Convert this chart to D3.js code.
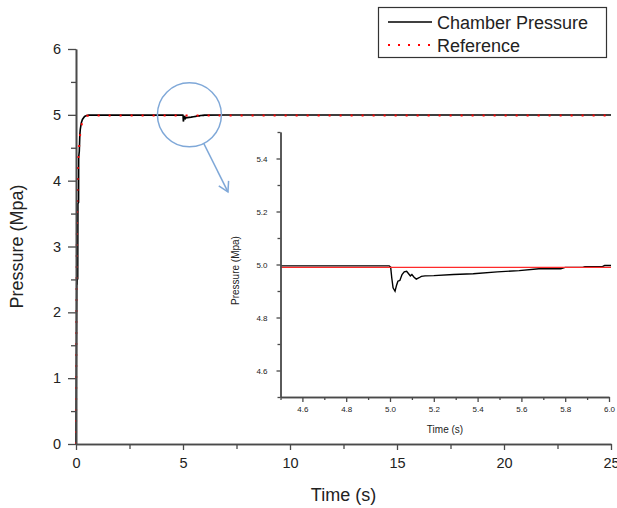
<!DOCTYPE html>
<html>
<head>
<meta charset="utf-8">
<script src="https://cdn.jsdelivr.net/npm/d3@7"></script>
<style>
  html, body { margin: 0; padding: 0; background: #fff; }
  svg { display: block; font-family: "Liberation Sans", Arial, sans-serif; }
</style>
</head>
<body>
<svg id="chart" width="617" height="508"></svg>
<script>
// ---------------- DATA ----------------
const chamberTime = [0, 0.015, 0.025, 0.035, 0.05, 0.07, 0.08, 0.09, 0.12, 0.125, 0.155, 0.18, 0.2, 0.25, 0.3, 0.4, 0.5, 0.6,
  1.0, 2.0, 3.0, 4.0, 4.5, 4.996, 5.003, 5.008, 5.014, 5.023, 5.03, 5.036, 5.045, 5.055, 5.065, 5.076, 5.085, 5.093,
  5.1, 5.11, 5.12, 5.133, 5.143, 5.16, 5.2, 5.29, 5.38, 5.49, 5.59, 5.68, 5.78, 5.8, 5.88, 5.89, 5.97, 5.98, 6.0, 7.0, 25];
const chamberPressure = [0, 1.1, 1.8, 2.45, 2.42, 2.7, 2.5, 3.65, 3.67, 4.35, 4.45, 4.7, 4.78, 4.88, 4.93, 4.975, 4.99, 4.995,
  4.995, 4.995, 4.995, 4.995, 4.995, 4.995, 4.99, 4.95, 4.912, 4.899, 4.922, 4.937, 4.94, 4.962, 4.972, 4.974, 4.965, 4.957,
  4.962, 4.952, 4.945, 4.95, 4.955, 4.957, 4.958, 4.962, 4.965, 4.972, 4.977, 4.984, 4.984, 4.989, 4.989, 4.992, 4.992, 4.996, 4.996, 4.998, 4.998];
const referenceTime = [0, 0.01, 0.02, 0.035, 0.05, 0.07, 0.09, 0.12, 0.16, 0.2, 0.25, 0.3, 0.4, 0.5, 0.7, 25];
const referencePressure = [0, 1.0, 2.0, 3.0, 3.5, 3.9, 4.2, 4.4, 4.58, 4.72, 4.83, 4.9, 4.96, 4.985, 4.989, 4.989];

const mainXTicks = [0, 5, 10, 15, 20, 25];
const mainXMinor = [2.5, 7.5, 12.5, 17.5, 22.5];
const mainYTicks = [0, 1, 2, 3, 4, 5, 6];
const mainYMinor = [0.5, 1.5, 2.5, 3.5, 4.5, 5.5];
const insetXTicks = [4.6, 4.8, 5.0, 5.2, 5.4, 5.6, 5.8, 6.0];
const insetXMinor = [4.5, 4.7, 4.9, 5.1, 5.3, 5.5, 5.7, 5.9];
const insetYTicks = [4.6, 4.8, 5.0, 5.2, 5.4];
const insetYMinor = [4.5, 4.7, 4.9, 5.1, 5.3, 5.5];
const seriesNames = ["Chamber Pressure", "Reference"];
// zoom annotation (data units of main chart)
const zoomCenter = [5.3, 5.0];
const arrowEnd = [7.1, 3.83];

// ---------------- DRAW ----------------
const svg = d3.select("#chart");
const chamber = chamberTime.map((t, i) => [t, chamberPressure[i]]);
const reference = referenceTime.map((t, i) => [t, referencePressure[i]]);
const axisColor = "#4a4a4a";
const textColor = "#222";

// main scales
const x = d3.scaleLinear().domain([0, 25]).range([76, 611]);
const y = d3.scaleLinear().domain([0, 6]).range([444, 49]);

function styleAxis(g, fs) {
  g.select(".domain").attr("stroke", axisColor).attr("stroke-width", 1.6);
  g.selectAll(".tick line").attr("stroke", axisColor).attr("stroke-width", 1.3);
  g.selectAll(".tick text").attr("fill", textColor).style("font-size", fs + "px")
    .style("font-family", "'Liberation Sans', Arial, sans-serif");
}

// main lines
const lineMain = d3.line().x(d => x(d[0])).y(d => y(d[1]));
svg.append("path").datum(chamber).attr("d", lineMain)
  .attr("fill", "none").attr("stroke", "#000").attr("stroke-width", 1.6);
svg.append("path").datum(reference).attr("d", lineMain)
  .attr("fill", "none").attr("stroke", "#ff0000").attr("stroke-width", 2)
  .attr("stroke-dasharray", "2 9");

// main axes
svg.append("g").attr("transform", `translate(0,${y(0)})`)
  .call(d3.axisBottom(x).tickValues(mainXMinor).tickSize(5).tickFormat("").tickSizeOuter(0))
  .call(g => styleAxis(g, 14));
svg.append("g").attr("transform", `translate(0,${y(0)})`)
  .call(d3.axisBottom(x).tickValues(mainXTicks).tickSize(6).tickPadding(8).tickFormat(d3.format("d")).tickSizeOuter(0))
  .call(g => styleAxis(g, 14.5));
svg.append("g").attr("transform", `translate(${x(0)},0)`)
  .call(d3.axisLeft(y).tickValues(mainYMinor).tickSize(5).tickFormat("").tickSizeOuter(0))
  .call(g => styleAxis(g, 14));
svg.append("g").attr("transform", `translate(${x(0)},0)`)
  .call(d3.axisLeft(y).tickValues(mainYTicks).tickSize(8).tickPadding(7).tickFormat(d3.format("d")).tickSizeOuter(0))
  .call(g => styleAxis(g, 14.5));

svg.append("text").attr("x", (x(0) + x(25)) / 2).attr("y", 501)
  .attr("text-anchor", "middle").attr("fill", textColor).style("font-size", "18px")
  .text("Time (s)");
svg.append("text").attr("transform", `translate(23,${(y(0) + y(6)) / 2}) rotate(-90)`)
  .attr("text-anchor", "middle").attr("fill", textColor).style("font-size", "18px")
  .text("Pressure (Mpa)");

// zoom circle & arrow
const cx = x(zoomCenter[0]), cy = y(zoomCenter[1]), r = 32;
const ax = x(arrowEnd[0]), ay = y(arrowEnd[1]);
const ang = Math.atan2(ay - cy, ax - cx);
const sx = cx + r * Math.cos(ang), sy = cy + r * Math.sin(ang);
const blue = "#7fa8d8";
svg.append("circle").attr("cx", cx).attr("cy", cy).attr("r", r)
  .attr("fill", "none").attr("stroke", blue).attr("stroke-width", 1.5);
svg.append("line").attr("x1", sx).attr("y1", sy).attr("x2", ax).attr("y2", ay)
  .attr("stroke", blue).attr("stroke-width", 1.5);
const hl = 11, ha = Math.PI / 6;
svg.append("path")
  .attr("d", `M${ax - hl * Math.cos(ang - ha)},${ay - hl * Math.sin(ang - ha)} L${ax},${ay} L${ax - hl * Math.cos(ang + ha)},${ay - hl * Math.sin(ang + ha)}`)
  .attr("fill", "none").attr("stroke", blue).attr("stroke-width", 1.5);

// ---------------- INSET ----------------
const xi = d3.scaleLinear().domain([4.5, 6.0]).range([280.5, 609]);
const yi = d3.scaleLinear().domain([4.5, 5.5]).range([397, 132]);
const inset = svg.append("g");
inset.append("clipPath").attr("id", "insetClip").append("rect")
  .attr("x", xi(4.5)).attr("y", yi(5.5)).attr("width", xi(6.0) - xi(4.5) + 2).attr("height", yi(4.5) - yi(5.5));
const lineInset = d3.line().x(d => xi(d[0])).y(d => yi(d[1]));
inset.append("path").datum(chamber).attr("d", lineInset).attr("clip-path", "url(#insetClip)")
  .attr("fill", "none").attr("stroke", "#000").attr("stroke-width", 1.4);
inset.append("path").datum(reference).attr("d", lineInset).attr("clip-path", "url(#insetClip)")
  .attr("fill", "none").attr("stroke", "#ff2a2a").attr("stroke-width", 1.4);

inset.append("g").attr("transform", `translate(0,${yi(4.5)})`)
  .call(d3.axisBottom(xi).tickValues(insetXMinor).tickSize(3).tickFormat("").tickSizeOuter(0))
  .call(g => styleAxis(g, 8));
inset.append("g").attr("transform", `translate(0,${yi(4.5)})`)
  .call(d3.axisBottom(xi).tickValues(insetXTicks).tickSize(5).tickPadding(4).tickFormat(d3.format(".1f")).tickSizeOuter(0))
  .call(g => styleAxis(g, 8));
inset.append("g").attr("transform", `translate(${xi(4.5)},0)`)
  .call(d3.axisLeft(yi).tickValues(insetYMinor).tickSize(3).tickFormat("").tickSizeOuter(0))
  .call(g => styleAxis(g, 8));
inset.append("g").attr("transform", `translate(${xi(4.5)},0)`)
  .call(d3.axisLeft(yi).tickValues(insetYTicks).tickSize(4).tickPadding(9).tickFormat(d3.format(".1f")).tickSizeOuter(0))
  .call(g => styleAxis(g, 8));
inset.selectAll(".domain").attr("stroke-width", 1.4);

inset.append("text").attr("x", 445).attr("y", 433)
  .attr("text-anchor", "middle").attr("fill", textColor).style("font-size", "10px")
  .text("Time (s)");
inset.append("text").attr("transform", `translate(239,${(yi(4.5) + yi(5.5)) / 2 + 6}) rotate(-90)`)
  .attr("text-anchor", "middle").attr("fill", textColor).style("font-size", "10px")
  .text("Pressure (Mpa)");

// ---------------- LEGEND ----------------
const legend = svg.append("g");
legend.append("rect").attr("x", 378.5).attr("y", 7.5).attr("width", 228).attr("height", 50)
  .attr("fill", "#fff").attr("stroke", "#333").attr("stroke-width", 1.2);
const legY = [22, 45];
legend.append("line").attr("x1", 388).attr("x2", 432).attr("y1", legY[0]).attr("y2", legY[0])
  .attr("stroke", "#000").attr("stroke-width", 1.5);
legend.append("line").attr("x1", 388).attr("x2", 432).attr("y1", legY[1]).attr("y2", legY[1])
  .attr("stroke", "#ff0000").attr("stroke-width", 2).attr("stroke-dasharray", "2 8");
seriesNames.forEach((n, i) => {
  legend.append("text").attr("x", 437).attr("y", legY[i] + 6.5)
    .attr("fill", textColor).style("font-size", "18px").text(n);
});
</script>
</body>
</html>
